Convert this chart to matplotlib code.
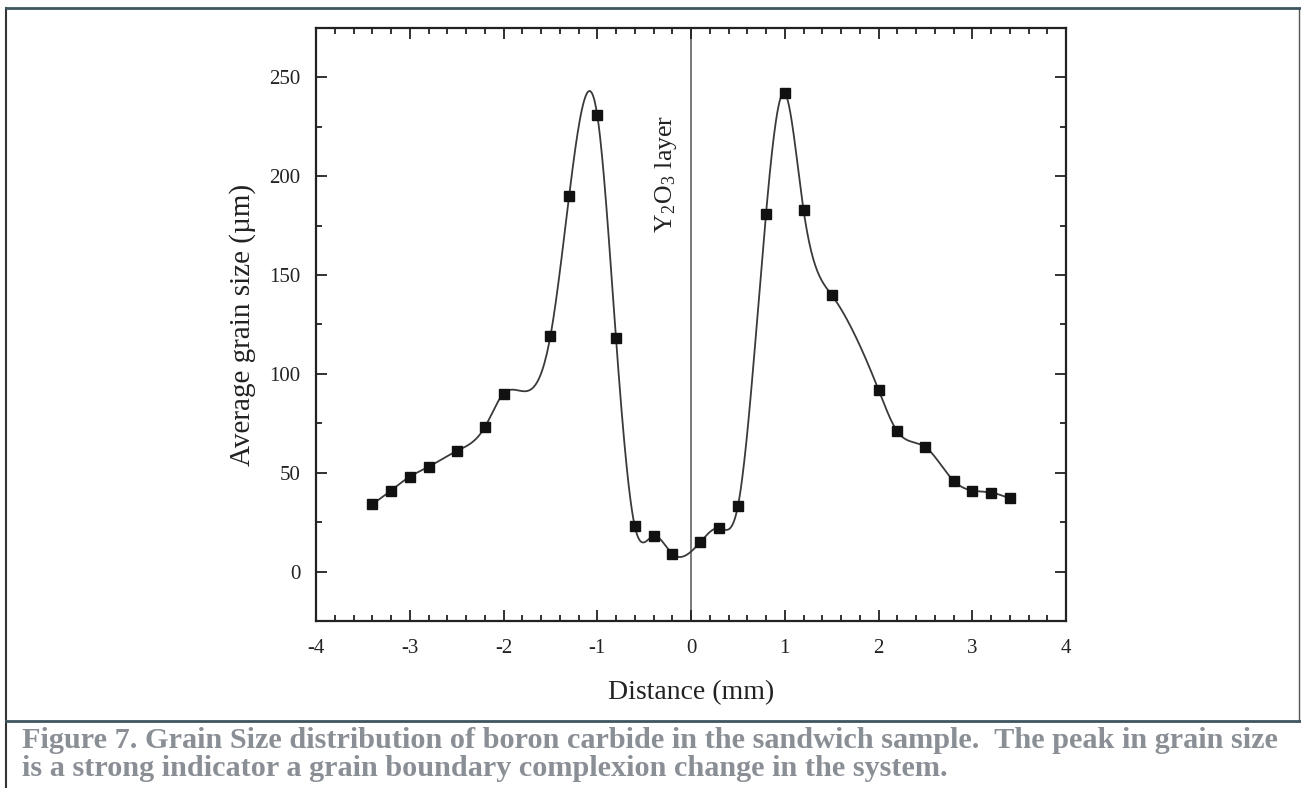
import numpy as np
import matplotlib
matplotlib.use("Agg")
import matplotlib.pyplot as plt
from matplotlib.ticker import MultipleLocator

# ---- data ----
distance = [-3.4, -3.2, -3.0, -2.8, -2.5, -2.2, -2.0, -1.5, -1.3, -1.0, -0.8, -0.6, -0.4, -0.2,
            0.1, 0.3, 0.5, 0.8, 1.0, 1.2, 1.5, 2.0, 2.2, 2.5, 2.8, 3.0, 3.2, 3.4]
grain_size = [34, 41, 48, 53, 61, 73, 90, 119, 190, 231, 118, 23, 18, 9,
              15, 22, 33, 181, 242, 183, 140, 92, 71, 63, 46, 41, 40, 37]
x_ticks = [-4, -3, -2, -1, 0, 1, 2, 3, 4]
y_ticks = [0, 50, 100, 150, 200, 250]
x_label = "Distance (mm)"
y_label = "Average grain size (\u00b5m)"
layer_label = r"Y$_\mathregular{2}$O$_\mathregular{3}$ layer"
caption = ("Figure 7. Grain Size distribution of boron carbide in the sandwich sample.  The peak in grain size\n"
           "is a strong indicator a grain boundary complexion change in the system.")


def natural_spline(x, y, n=40):
    """Natural cubic spline through the data points (smooth connecting line)."""
    x = np.asarray(x, float)
    y = np.asarray(y, float)
    N = len(x)
    h = np.diff(x)
    A = np.zeros((N, N))
    b = np.zeros(N)
    A[0, 0] = 1
    A[-1, -1] = 1
    for i in range(1, N - 1):
        A[i, i - 1] = h[i - 1]
        A[i, i] = 2 * (h[i - 1] + h[i])
        A[i, i + 1] = h[i]
        b[i] = 6 * ((y[i + 1] - y[i]) / h[i] - (y[i] - y[i - 1]) / h[i - 1])
    M = np.linalg.solve(A, b)
    xs, ys = [], []
    for i in range(N - 1):
        t = np.linspace(x[i], x[i + 1], n, endpoint=False)
        a = x[i + 1] - t
        c = t - x[i]
        s = (M[i] * a**3 + M[i + 1] * c**3) / (6 * h[i]) \
            + (y[i] / h[i] - M[i] * h[i] / 6) * a + (y[i + 1] / h[i] - M[i + 1] * h[i] / 6) * c
        xs.append(t)
        ys.append(s)
    xs.append([x[-1]])
    ys.append([y[-1]])
    return np.concatenate(xs), np.concatenate(ys)


plt.rcParams['font.family'] = ['Liberation Serif', 'DejaVu Serif']
plt.rcParams['mathtext.fontset'] = 'stix'

fig = plt.figure(figsize=(13.01, 7.88), dpi=100)
ax = fig.add_axes([316 / 1301, 1 - 621 / 788, 750 / 1301, 593 / 788])

nx, ny = natural_spline(distance, grain_size)
ax.plot(nx, ny, color='#3a3a3a', lw=1.3, zorder=2)
ax.plot(distance, grain_size, linestyle='none', marker='s', markersize=7.5,
        color='#111111', zorder=3)
ax.axvline(0, color='#6e6e6e', lw=1.3, zorder=1)

ax.set_xlim(-4, 4)
ax.set_ylim(-25, 275)
ax.set_xticks(x_ticks)
ax.set_xticklabels([str(v) for v in x_ticks])
ax.set_yticks(y_ticks)
ax.xaxis.set_minor_locator(MultipleLocator(0.2))
ax.yaxis.set_minor_locator(MultipleLocator(25))
ax.tick_params(which='both', direction='in', top=True, right=True, colors='#222222',
               labelsize=15, width=1.3)
ax.tick_params(which='major', length=8, pad=11)
ax.tick_params(axis='x', which='major', pad=13)
ax.tick_params(which='minor', length=4)
for s in ax.spines.values():
    s.set_linewidth(1.6)
    s.set_color('#222222')

ax.set_xlabel(x_label, fontsize=20, labelpad=16, color='#222222')
ax.set_ylabel(y_label, fontsize=21, labelpad=10, color='#222222')

ax.text(-0.27, 231, layer_label, rotation=90, ha='center', va='top', fontsize=18.5,
        color='#222222')

fig.add_artist(plt.Line2D([6 / 1301, 6 / 1301], [0, 1 - 8 / 788], transform=fig.transFigure,
                          color='#333333', lw=1.5))
fig.add_artist(plt.Line2D([1299 / 1301, 1299 / 1301], [1 - 721 / 788, 1 - 8 / 788],
                          transform=fig.transFigure, color='#555555', lw=1.0))
fig.add_artist(plt.Line2D([6 / 1301, 1], [1 - 8 / 788, 1 - 8 / 788], transform=fig.transFigure,
                          color='#3f5560', lw=2.0))
fig.add_artist(plt.Line2D([6 / 1301, 1], [1 - 721 / 788, 1 - 721 / 788],
                          transform=fig.transFigure, color='#3f5560', lw=2.0))

fig.text(22 / 1301, 1 - 727 / 788, caption, ha='left', va='top', fontsize=21.8,
         fontweight='bold', color='#8a8f96', linespacing=1.05)

fig.savefig('out.png', dpi=100)
